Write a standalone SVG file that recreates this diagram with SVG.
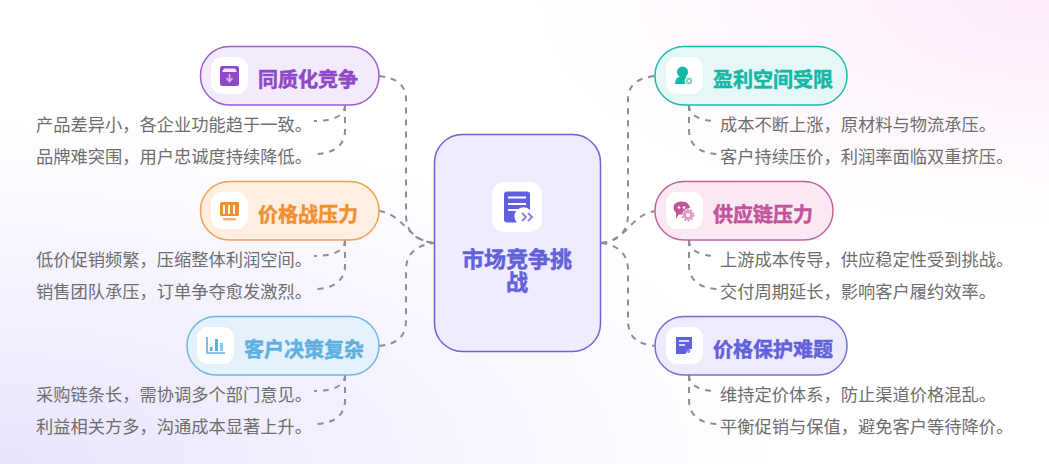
<svg xmlns="http://www.w3.org/2000/svg" width="1049" height="464" viewBox="0 0 1049 464">
<defs>
<radialGradient id="bgA" cx="0" cy="1" r="0.75"><stop offset="0" stop-color="#e9e4fd"/><stop offset="1" stop-color="#e9e4fd" stop-opacity="0"/></radialGradient>
<radialGradient id="bgB" cx="1" cy="0" r="0.5"><stop offset="0" stop-color="#fdeafa"/><stop offset="1" stop-color="#fdeafa" stop-opacity="0"/></radialGradient>
</defs>
<style>
.n{stroke-width:1.5}
.t{font:700 20px "Noto Sans CJK SC",sans-serif;stroke-width:.5;paint-order:stroke}
.b{font:400 17.25px "Noto Sans CJK SC",sans-serif;fill:#6e6e6e}
.c{fill:none;stroke:#8d8d98;stroke-width:2;stroke-dasharray:6 6}
.w{fill:#fff}
</style>
<rect width="1049" height="464" fill="#fff"/>
<rect width="1049" height="464" fill="url(#bgA)"/>
<rect width="1049" height="464" fill="url(#bgB)"/>
<g id="connectors">
<path class="c" d="M379 76C396 78 406 84 406 100V215C406 232 416 241 434 243"/>
<path class="c" d="M379 211C405 215 408 241 434 243"/>
<path class="c" d="M379 346C396 344 406 338 406 320V270C406 254 416 245 434 243"/>
<path class="c" d="M601 243C618 241 628 232 628 215V100C628 84 638 78 655 76"/>
<path class="c" d="M601 243C627 241 630 215 655 211"/>
<path class="c" d="M601 243C618 245 628 254 628 270V320C628 338 638 344 655 346"/>
<path class="c" d="M345 105C345 116 333 121 314 121"/>
<path class="c" d="M345 105V130C345 146 333 154 314 154"/>
<path class="c" d="M345 240C345 251 333 256 314 256"/>
<path class="c" d="M345 240V265C345 281 333 289 314 289"/>
<path class="c" d="M345 375C345 386 333 391 314 391"/>
<path class="c" d="M345 375V400C345 416 333 424 314 424"/>
<path class="c" d="M689 105C689 116 701 121 717 121"/>
<path class="c" d="M689 105V130C689 146 701 154 719 154"/>
<path class="c" d="M689 240C689 251 701 256 717 256"/>
<path class="c" d="M689 240V265C689 281 701 289 719 289"/>
<path class="c" d="M689 375C689 386 701 391 717 391"/>
<path class="c" d="M689 375V400C689 416 701 424 719 424"/>
</g>
<g id="center">
<rect x="434.500" y="134.500" width="166" height="217" rx="28" fill="#eeecfd" stroke="#6b63dc" stroke-width="1.500"/>
<rect class="w" x="492" y="182" width="50" height="50" rx="12"/>
<path d="M507 191.500H527a3 3 0 0 1 3 3V210a9 9 0 0 0-13 12.500H507a3 3 0 0 1-3-3V194.500a3 3 0 0 1 3-3Z" fill="#6360e0"/>
<path d="M508 197.500H526M508 204H526M508 210H518" stroke="#fff" stroke-width="2" fill="none"/>
<path d="M522 213l4 4-4 4M528 213l4 4-4 4" stroke="#8a86ea" stroke-width="2" fill="none"/>
<text text-anchor="middle" style="font:700 22px 'Noto Sans CJK SC',sans-serif;stroke:#6360dc;stroke-width:.5;paint-order:stroke" fill="#6360dc"><tspan x="517" y="266.500">市场竞争挑</tspan><tspan x="517" y="290">战</tspan></text>
</g>
<g id="node-l1">
<rect class="n" x="200.500" y="46.500" width="178.500" height="58.500" rx="29" fill="#f3ebfc" stroke="#9c5ccb"/>
<rect class="w" x="211" y="57" width="37" height="37" rx="11"/>
<rect x="220" y="66" width="19" height="20" rx="2" fill="#9048c8"/>
<path d="M224 68.500H235L237 72H222Z" fill="#f3e6fb"/>
<path d="M229.500 74V81M226.500 78L229.500 81.500L232.500 78" stroke="#dcbdf3" stroke-width="1.500" fill="none"/>
<text class="t" x="258" y="86.500" fill="#9048c8" stroke="#9048c8">同质化竞争</text>
<text class="b" x="36" y="131">产品差异小，各企业功能趋于一致。</text>
<text class="b" x="36" y="163">品牌难突围，用户忠诚度持续降低。</text>
</g>
<g id="node-l2">
<rect class="n" x="200.500" y="181.500" width="178.500" height="58.500" rx="29" fill="#feefe2" stroke="#f0a050"/>
<rect class="w" x="211" y="192" width="37" height="37" rx="11"/>
<rect x="220" y="202" width="19" height="14" rx="1.500" fill="#f09030"/>
<path d="M224 205V214M229 205V214M234 205V214" stroke="#fff" stroke-width="1.800"/>
<rect x="223" y="218" width="13" height="2.500" rx="1" fill="#f4b070"/>
<text class="t" x="258" y="221.500" fill="#f09030" stroke="#f09030">价格战压力</text>
<text class="b" x="36" y="266">低价促销频繁，压缩整体利润空间。</text>
<text class="b" x="36" y="298">销售团队承压，订单争夺愈发激烈。</text>
</g>
<g id="node-l3">
<rect class="n" x="187" y="316.500" width="192" height="58.500" rx="29" fill="#e5f2fb" stroke="#6fb5e2"/>
<rect class="w" x="197" y="327" width="37" height="37" rx="11"/>
<path d="M207 337V353H225" stroke="#5fb0e0" stroke-width="1.600" fill="none"/>
<rect x="210" y="347" width="2.500" height="4" fill="#5fb0e0"/>
<rect x="215" y="339" width="3" height="12" fill="#5fb0e0"/>
<rect x="220" y="343" width="3" height="8" fill="#8cc6ea"/>
<text class="t" x="244" y="356.500" fill="#5fb0e0" stroke="#5fb0e0">客户决策复杂</text>
<text class="b" x="36" y="401">采购链条长，需协调多个部门意见。</text>
<text class="b" x="36" y="433">利益相关方多，沟通成本显著上升。</text>
</g>
<g id="node-r1">
<rect class="n" x="655" y="46.500" width="192" height="58.500" rx="29" fill="#e6f7f8" stroke="#22b8b0"/>
<rect class="w" x="666" y="57" width="37" height="37" rx="11"/>
<circle cx="682.500" cy="72" r="5.500" fill="#14b8a6"/>
<path d="M675 84C675 78 679 76 682.500 76C686 76 690 78 690 84Z" fill="#14b8a6"/>
<circle cx="689" cy="81" r="4" fill="#7fcfc9" stroke="#fff"/>
<path d="M687.500 79.500L690.500 82.500M690.500 79.500L687.500 82.500" stroke="#fff"/>
<text class="t" x="713" y="86.500" fill="#14b8a6" stroke="#14b8a6">盈利空间受限</text>
<text class="b" x="720" y="131">成本不断上涨，原材料与物流承压。</text>
<text class="b" x="720" y="163">客户持续压价，利润率面临双重挤压。</text>
</g>
<g id="node-r2">
<rect class="n" x="655" y="181.500" width="178" height="58.500" rx="29" fill="#fae9f5" stroke="#c4619e"/>
<rect class="w" x="666" y="192" width="37" height="37" rx="11"/>
<path d="M681.500 201.500C687 201.500 690 205 690 208C686 208 683 211 682 214.500H678.500L676 219V212.500C674 211 673.500 209 673.500 207.500C673.500 204 677 201.500 681.500 201.500Z" fill="#c0559a"/>
<circle cx="679" cy="207.500" r="1.300" fill="#fff"/>
<circle cx="684" cy="207.500" r="1.300" fill="#fff"/>
<circle cx="688" cy="215" r="3.500" fill="none" stroke="#dd9ac4" stroke-width="3"/>
<circle cx="688" cy="215" r="5.600" fill="none" stroke="#dd9ac4" stroke-width="1.800" stroke-dasharray="2 1.500"/>
<text class="t" x="713" y="221.500" fill="#c0559a" stroke="#c0559a">供应链压力</text>
<text class="b" x="720" y="266">上游成本传导，供应稳定性受到挑战。</text>
<text class="b" x="720" y="298">交付周期延长，影响客户履约效率。</text>
</g>
<g id="node-r3">
<rect class="n" x="655" y="316.500" width="192" height="58.500" rx="29" fill="#eeecfc" stroke="#7470d8"/>
<rect class="w" x="666" y="327" width="37" height="37" rx="11"/>
<path d="M676 337H692V349A5 5 0 0 0 686 354H676Z" fill="#6360e0"/>
<path d="M679 341H689M679 345H685" stroke="#fff" stroke-width="1.500"/>
<circle cx="688.500" cy="351" r="2" fill="#8a86ea"/>
<text class="t" x="713" y="356.500" fill="#6360dc" stroke="#6360dc">价格保护难题</text>
<text class="b" x="720" y="401">维持定价体系，防止渠道价格混乱。</text>
<text class="b" x="720" y="433">平衡促销与保值，避免客户等待降价。</text>
</g>
</svg>
